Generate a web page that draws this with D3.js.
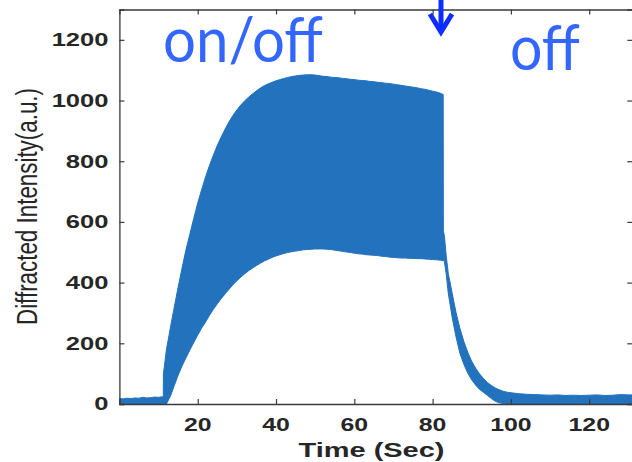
<!DOCTYPE html>
<html>
<head>
<meta charset="utf-8">
<script src="https://cdn.jsdelivr.net/npm/d3@7"></script>
<style>
  html, body { margin: 0; padding: 0; background: #fff; }
  svg { display: block; }
</style>
</head>
<body>
<svg id="chart" width="632" height="462"></svg>
<script>
// ---------------- data ----------------
const time = [
  0, 1, 2, 3, 4, 5, 6, 7, 8, 9, 10, 11, 11.2,
  11.25, 12, 13, 14, 15, 16, 17, 18, 19, 20, 21, 22, 23, 24, 25, 26, 27, 28, 29, 30,
  31, 32, 33, 34, 35, 36, 37, 38, 39, 40, 41, 42, 43, 44, 45, 46, 47, 48, 49, 50,
  51, 52, 53, 54, 55, 56, 57, 58, 59, 60, 61, 62, 63, 64, 65, 66, 67, 68, 69, 70,
  71, 72, 73, 74, 75, 76, 77, 78, 79, 80, 81, 82, 82.7,
  82.75, 83, 83.5, 84, 85, 86, 87, 88, 89, 90, 91, 92, 93, 94, 95, 96, 97, 98, 99, 100,
  102, 104, 106, 108, 110, 112, 114, 116, 118, 120, 122, 124, 126, 128, 130, 131
];
const upperEnv = [
  18, 17, 19, 18, 20, 19, 22, 20, 21, 23, 22, 24, 22,
  100, 178, 250, 318, 385, 448, 508, 560, 612, 662, 706, 748, 786, 820, 852, 880, 906, 930, 951, 969,
  985, 999, 1011, 1022, 1032, 1041, 1049, 1055, 1060, 1065, 1069, 1073, 1076, 1079, 1081, 1083, 1084, 1085, 1085, 1084,
  1082, 1080, 1079, 1077, 1076, 1075, 1073, 1072, 1070, 1069, 1067, 1066, 1065, 1063, 1062, 1060, 1059, 1057, 1056, 1054,
  1052, 1050, 1048, 1046, 1044, 1042, 1039, 1037, 1034, 1031, 1028, 1024, 1020,
  570, 555, 485, 430, 365, 300, 248, 205, 170, 140, 118, 99, 84, 71, 61, 53, 47, 42, 39, 37,
  34, 32, 31, 30, 29, 30, 28, 29, 28, 29, 30, 28, 29, 31, 30, 30
];
const lowerEnv = [
  0, 0, 0, 0, 0, 0, 0, 0, 0, 0, 0, 0, 0,
  0, 0, 25, 60, 95, 125, 152, 178, 203, 227, 250, 270, 292, 312, 330, 347, 363, 378, 393, 406,
  418, 429, 439, 448, 456, 464, 471, 477, 483, 488, 492, 496, 499, 502, 504, 506, 508, 509, 510, 511,
  511, 511, 510, 509, 507, 505, 503, 501, 499, 497, 495, 494, 492, 491, 490, 489, 487, 486, 484, 483,
  482, 481, 481, 480, 480, 479, 479, 478, 477, 476, 475, 474, 472,
  472, 470, 425, 365, 285, 220, 166, 130, 101, 79, 62, 48, 38, 28, 18, 9, 4, 2, 0, 0,
  0, 0, 0, 0, 0, 0, 0, 0, 0, 0, 0, 0, 0, 0, 0, 0
];
const xTicks = [20, 40, 60, 80, 100, 120];
const yTicks = [0, 200, 400, 600, 800, 1000, 1200];
const xLabel = "Time (Sec)";
const yLabel = "Diffracted Intensity(a.u.)";
const noteOnOff = "on/off";
const noteOff = "off";

(function () {
// ---------------- layout ----------------
const svg = d3.select("#chart");
const pLeft = 119.4, pRight = 632.3, pTop = 9.5, pBottom = 404;
const x = d3.scaleLinear().domain([0, 131]).range([pLeft, pRight]);
const y = d3.scaleLinear().domain([0, 1300]).range([pBottom, pTop]);

const axisColor = "#3a3a3a";
const textColor = "#262626";
const fillColor = "#2372bd";

svg.append("defs").append("clipPath").attr("id", "plotClip")
  .append("rect").attr("x", pLeft).attr("y", pTop)
  .attr("width", pRight - pLeft).attr("height", pBottom - pTop);

const data = time.map((t, i) => ({ t, hi: upperEnv[i], lo: lowerEnv[i] }));

svg.append("path")
  .datum(data)
  .attr("clip-path", "url(#plotClip)")
  .attr("fill", fillColor)
  .attr("stroke", fillColor)
  .attr("stroke-width", 1)
  .attr("stroke-linejoin", "round")
  .attr("d", d3.area().x(d => x(d.t)).y0(d => y(d.lo)).y1(d => y(d.hi)));

// ---------------- axes (box with inward ticks) ----------------
const tl = 5;
svg.append("g").attr("transform", `translate(0,${pBottom})`)
  .call(d3.axisBottom(x).tickValues(xTicks).tickSize(-tl).tickFormat(""));
svg.append("g").attr("transform", `translate(0,${pTop})`)
  .call(d3.axisTop(x).tickValues(xTicks).tickSize(-tl).tickFormat(""));
svg.append("g").attr("transform", `translate(${pLeft},0)`)
  .call(d3.axisLeft(y).tickValues(yTicks).tickSize(-tl).tickFormat(""));
svg.append("g").attr("transform", `translate(${pRight},0)`)
  .call(d3.axisRight(y).tickValues(yTicks).tickSize(-tl).tickFormat(""));
svg.selectAll(".domain").attr("stroke", axisColor).attr("stroke-width", 1.3);
svg.selectAll(".tick line").attr("stroke", axisColor).attr("stroke-width", 1.2);

// tick labels (horizontally stretched bold)
svg.append("g").selectAll("text").data(yTicks).join("text")
  .attr("transform", d => `translate(108.5,${y(d)}) scale(1.42,1)`)
  .attr("text-anchor", "end").attr("dy", "0.36em")
  .attr("font-family", "Liberation Sans, Arial, sans-serif")
  .attr("font-weight", "bold").attr("font-size", 18)
  .attr("fill", textColor).text(d => d);

svg.append("g").selectAll("text").data(xTicks).join("text")
  .attr("transform", d => `translate(${x(d)},430.7) scale(1.38,1)`)
  .attr("text-anchor", "middle")
  .attr("font-family", "Liberation Sans, Arial, sans-serif")
  .attr("font-weight", "bold").attr("font-size", 18)
  .attr("fill", textColor).text(d => d);

svg.append("text")
  .attr("transform", "translate(371.5,456.5) scale(1.38,1)")
  .attr("text-anchor", "middle")
  .attr("font-family", "Liberation Sans, Arial, sans-serif")
  .attr("font-weight", "bold").attr("font-size", 21)
  .attr("fill", textColor).text(xLabel);

svg.append("text")
  .attr("transform", "translate(37,206.5) scale(1.4,1) rotate(-90)")
  .attr("text-anchor", "middle")
  .attr("font-family", "Liberation Sans, Arial, sans-serif")
  .attr("font-size", 21)
  .attr("textLength", 237).attr("lengthAdjust", "spacingAndGlyphs")
  .attr("fill", textColor).text(yLabel);

// ---------------- annotations ----------------
const noteColor = "#3366ff";
svg.append("text")
  .attr("x", 163).attr("y", 62)
  .attr("font-family", "Lato, 'Open Sans', sans-serif")
  .attr("font-size", 62)
  .attr("textLength", 160).attr("lengthAdjust", "spacingAndGlyphs")
  .attr("fill", noteColor).text(noteOnOff);
svg.append("text")
  .attr("x", 510).attr("y", 70)
  .attr("font-family", "Lato, 'Open Sans', sans-serif")
  .attr("font-size", 62)
  .attr("textLength", 70).attr("lengthAdjust", "spacingAndGlyphs")
  .attr("fill", noteColor).text(noteOff);

const arrowColor = "#0d2eff";
const ax = 441;
svg.append("line")
  .attr("x1", ax).attr("x2", ax).attr("y1", 0).attr("y2", 32)
  .attr("stroke", arrowColor).attr("stroke-width", 5);
svg.append("polyline")
  .attr("points", `${ax - 11},14 ${ax},32 ${ax + 11},14`)
  .attr("fill", "none").attr("stroke", arrowColor)
  .attr("stroke-width", 5).attr("stroke-linejoin", "miter");
})();
</script>
</body>
</html>
